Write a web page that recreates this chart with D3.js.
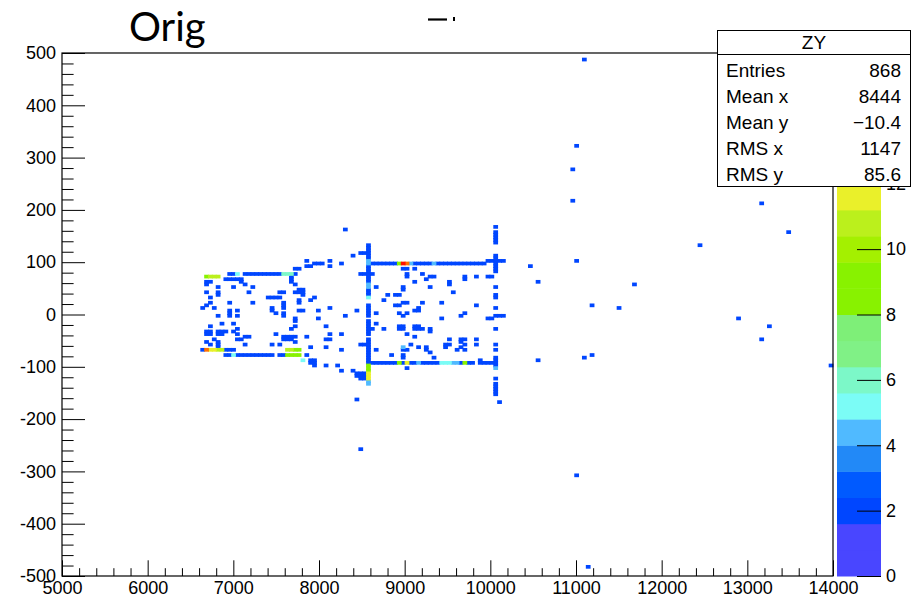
<!DOCTYPE html>
<html><head><meta charset="utf-8">
<script src="https://cdn.jsdelivr.net/npm/d3@7"></script>
<style>
body{margin:0;background:#fff;}
svg{display:block;}
text{font-family:"Liberation Sans",Arial,sans-serif;}
</style></head>
<body>
<svg id="c" width="914" height="606"></svg>
<script>
// ---------- data ----------
const xRange = [5000, 14000];
const yRange = [-500, 500];
const zRange = [0, 16];
const binWX = 45;   // 200 bins in x
const binWY = 5;    // 200 bins in y
const xTicks = [5000,6000,7000,8000,9000,10000,11000,12000,13000,14000];
const yTicks = [-500,-400,-300,-200,-100,0,100,200,300,400,500];
const zTicks = [0,2,4,6,8,10,12];
const paletteColors = ["#4946ff","#4946ff","#0046ff","#005aff","#2289f7","#50baff","#7bfcf6","#7cf8c8",
  "#80f186","#7eef78","#88f200","#88f200","#a4f000","#bbf01c","#eaf02a","#ffd000","#ffa000","#ff7000","#ff4000","#ff1000"];
const statsLabels = ["Entries","Mean x","Mean y","RMS x","RMS y"];
const statsValues = ["868","8444","\u221210.4","1147","85.6"];

// horizontal runs of filled bins: [X0, X1, Y, content]
const hRuns = [
 [6961,7038,79,2],[7058,7058,79,5.2],[7116,7214,79,2],[7291,7396,79,2],[7466,7544,79,2],[7575,7700,79,6],[7740,7740,79,2],
 [6688,6688,71,8.8],[6730,6844,71,10.8],[6914,7078,66,2],
 [6640,6640,-70,2],[6690,6690,-70,13.6],[6730,6760,-70,11.6],[6800,6850,-70,10.8],[6920,7000,-70,2],
 [6920,6960,-76,2],[7000,7000,-76,5.2],[7040,7440,-76,2],[7530,7600,-76,2],
 [7640,7680,-70,10.8],[7710,7760,-70,8.8],[7640,7760,-76,8.8],
 [8615,8900,98,2],[8920,8920,98,8.8],[8965,8965,98,16],[9010,9010,98,13.6],[9060,9100,98,4.4],[9130,9198,98,2],
 [9257,9320,98,2],[9350,9350,98,4.4],[9380,9918,98,2],
 [8615,8900,-95,2],[8920,8920,-95,8.8],[8965,8965,-95,2],[9030,9030,-95,11.6],[9060,9130,-95,2],[9170,9170,-95,4.4],
 [9200,9420,-95,2],[9440,9540,-95,5.2],[9570,9640,-95,4.4],[9660,9680,-95,2],[9710,9710,-95,8.8],[9740,9800,-95,2],[9860,10073,-95,2],
 [8480,8530,117,2],[8480,8620,79,2],[8590,8620,-30,2],[8480,8530,-56,2],
 [9976,10151,104,2],[10100,10151,-3,2],[9990,10010,-9,2],[9990,10010,70,2]
];
// vertical runs of filled bins: [X, Y0, Y1, content]
const vRuns = [
 [8568,101,133,2],[8568,91,100,4.4],[8568,60,90,2],[8568,53,59,4.4],[8568,34,47,2],[8568,31,31,5.2],[8568,-4,18,2],
 [8568,-39,-14,2],[8568,-81,-46,2],[8568,-93,-82,2],[8568,-97,-97,8.8],[8568,-112,-102,8.8],[8568,-125,-115,11.6],[8568,-131,-128,4.4],
 [10062,165,165,2],[10062,136,155,2],[10062,82,111,2],[10062,51,51,2],[10062,30,39,2],[10062,12,12,2],[10062,-3,-3,2],
 [10062,-29,-29,2],[10062,-56,-56,2],[10062,-69,-69,2],[10062,-96,-84,2],[10062,-103,-103,4.4],[10062,-123,-123,2],[10062,-154,-135,2],[10113,-169,-169,2]
];
// single filled bins, left cluster: [X, Y, content]
const leftCells = [
 [8323,163,2],[8381,111,2],[7836,104,2],[7953,98,2],[7998,98,2],[8050,98,2],[8147,104,2],[8264,98,2],[8147,92,2],[7836,91,2],[7875,91,2],[7914,91,2],[7720,86,2],[7765,86,2],
 [6700,64,2],[6750,64,2],[6700,58,2],[7100,60,2],[7130,58,2],[6990,51,2],[6800,50,2],[6800,44,2],[6800,38,2],[6750,30,2],[6750,24,2],[6690,44,2],
 [7170,40,2],[7240,50,2],[7240,24,2],[6940,24,2],[6650,12,2],[6700,18,2],[6760,12,2],[6950,5,2],[7060,5,2],[7060,-1,2],[6820,-3,2],
 [7470,14,2],[7470,8,2],[7500,2,2],[7400,31,2],[7450,31,2],[7500,31,2],[7540,40,2],[7590,40,2],[7540,34,2],[7603,24,2],[7603,18,2],[7603,12,2],
 [7680,72,2],[7680,66,2],[7680,60,2],[7720,40,2],[7760,40,2],[7739,57,2],[7780,46,2],[7830,46,2],[7780,40,2],[7830,40,2],[7800,35,2],
 [7953,31,2],[7894,25,2],[7770,28,2],[7770,20,2],[8011,5,2],[8147,12,2],[8439,5,2],[7972,-7,2],[8089,-23,2],[8147,-36,2],[8264,-36,2],
 [7836,-42,2],[7720,-7,2],[7720,-14,2],[7720,-21,2],[7760,5,2],[7800,5,2],[8070,-48,2],[8120,-48,2],[7914,-63,2],[8089,-63,2],[7836,-76,2],
 [7790,-88,5.2],[7830,-88,5.2],[7900,-87,2],[7950,-87,2],[7900,-93,2],[7950,-93,2],[7925,-99,2],[8089,-100,2],[8206,-100,2],[8283,-106,2],[8400,-109,2],
 [8440,-115,2],[8490,-115,2],[8530,-115,2],[8440,-120,2],[8490,-120,2],[8530,-120,2],[8490,-125,2],[8530,-125,2],
 [8432,-163,2],[8490,-257,2],
 [6700,-34,2],[6750,-34,2],[6800,-34,2],[6850,-34,2],[6700,-40,2],[6750,-40,2],[6800,-40,2],[6850,-40,2],[6760,-49,2],[6688,-55,2],
 [6820,-55,2],[6820,-60,2],[6840,-65,2],[6930,-34,2],[6980,-34,2],[7020,-34,2],[7060,-30,2],[7060,-40,2],[7100,-46,2],[7060,-49,2],
 [7130,-42,2],[7170,-42,2],[7200,-42,2],[7116,-60,2],[6750,-22,2],[6880,-17,2],[7000,-17,2],
 [7480,-36,2],[7580,-44,2],[7620,-44,2],[7660,-44,2],[7700,-44,2],[7580,-50,2],[7620,-50,2],[7660,-50,2],[7720,-55,2],[7661,-30,2],
 [7466,-60,2],[7520,-60,2],[6940,4,2],[6960,-1,2],[7590,4,2],[7600,-1,2],[6747,-58,2],[6825,-63,2]
];
// single filled bins, right box
const rightCells = [
 [8990,89,2],[9030,89,2],[9100,86,2],[9039,79,2],[9039,74,2],[9190,79,2],[9295,71,2],[9340,71,2],[9097,60,2],[9237,65,2],[9505,62,2],[9505,56,2],
 [9704,66,2],[9704,72,2],[9821,72,2],[9996,72,2],[8673,50,2],[9276,50,2],[9587,42,2],[8965,52,2],[8965,47,2],[8990,47,2],[8945,37,2],[8900,37,2],
 [8805,37,2],[8751,26,2],[9004,24,2],[9040,24,2],[9217,24,2],[9413,24,2],[8887,18,2],[8930,18,2],[9155,14,2],[9120,9,2],[9160,9,2],[9821,18,2],
 [8673,2,2],[8926,3,2],[9043,2,2],[9413,-9,2],[9704,3,2],[9646,-3,2],[8980,-3,2],[8673,-17,2],[8751,-30,2],[8945,-24,2],[8990,-24,2],[8945,-29,2],
 [8990,-29,2],[9043,-36,2],[9100,-42,2],[9120,-22,2],[9160,-22,2],[9120,-27,2],[9160,-27,2],[9217,-26,2],[9315,-26,2],[9315,-32,2],[9529,-49,2],
 [9470,-60,2],[9510,-60,2],[9490,-65,2],[9640,-49,2],[9680,-49,2],[9640,-55,2],[9690,-60,2],[9670,-65,2],[9821,-50,2],[9821,-56,2],[9607,-69,2],
 [9685,-68,2],[8673,-70,2],[8868,-76,2],[8990,-63,4.4],[8990,-70,2],[8990,-77,2],[8990,-83,2],[9030,-70,2],[9062,-58,2],[9179,-63,2],[9237,-63,2],
 [9237,-69,2],[9276,-74,2],[9354,-83,2],[9879,-90,2],[9043,-103,2],[8381,-109,2],[8323,-1,2],[8280,-70,2]
];
// isolated filled bins outside the boxes
const outerCells = [
 [10482,90,2],[10548,64,2],[11027,104,2],[11685,57,2],[11202,18,2],[11502,11,2],[12887,-10,2],[13241,-23,2],[13183,-49,2],
 [11202,-76,2],[11085,-83,2],[10548,-89,2],[13965,-96,2],[13179,211,2],[13478,158,2],[12467,132,2],[10968,217,2],[10965,278,2],
 [11012,324,2],[11082,487,2],[11023,-309,2],[11140,-483,2]
];

// ---------- drawing ----------
const svg = d3.select("#c");
const frame = {l:62, r:833, t:53, b:576};
const xs = d3.scaleLinear().domain(xRange).range([frame.l, frame.r]);
const ys = d3.scaleLinear().domain(yRange).range([frame.b, frame.t]);
const zs = d3.scaleLinear().domain(zRange).range([frame.b, frame.t]);
const nLev = paletteColors.length;
const dz = (zRange[1]-zRange[0])/nLev;
const colorOf = v => paletteColors[Math.max(0, Math.min(nLev-1, Math.floor((v - zRange[0])/dz + 1e-6)))];

// build bin map
const bins = new Map();
const ix = X => Math.floor((X - xRange[0]) / binWX);
const iy = Y => Math.floor((Y - yRange[0]) / binWY);
function put(i, j, v){ bins.set(i+","+j, {i, j, v}); }
hRuns.forEach(([x0,x1,y,v]) => { for (let i = ix(x0); i <= ix(x1); i++) put(i, iy(y), v); });
vRuns.forEach(([x,y0,y1,v]) => { for (let j = iy(y0); j <= iy(y1); j++) put(ix(x), j, v); });
[...leftCells, ...rightCells, ...outerCells].forEach(([x,y,v]) => put(ix(x), iy(y), v));

// the reference image is slightly soft: draw each bin with a small halo
const padX = 0.45, padY = 0.55;
const binData = [...bins.values()].sort((a,b) => a.v - b.v);
svg.append("g").selectAll("rect").data(binData).join("rect")
  .attr("x", d => xs(xRange[0] + d.i*binWX) - padX)
  .attr("width", d => xs(xRange[0] + (d.i+1)*binWX) - xs(xRange[0] + d.i*binWX) + 2*padX)
  .attr("y", d => ys(yRange[0] + (d.j+1)*binWY) - padY)
  .attr("height", d => ys(yRange[0] + d.j*binWY) - ys(yRange[0] + (d.j+1)*binWY) + 2*padY)
  .attr("fill", d => colorOf(d.v));

// axes
const minorX = d3.range(xRange[0], xRange[1]+1, 200).filter(v => v % 1000 !== 0);
const minorY = d3.range(yRange[0], yRange[1]+1, 20).filter(v => v % 100 !== 0);
function styleAxis(g){ g.select(".domain").remove(); g.selectAll("line").attr("stroke","#000"); g.selectAll("text").attr("fill","#000").style("font-size","18px").style("font-family","'Liberation Sans',Arial,sans-serif"); }
svg.append("g").attr("transform", `translate(0,${frame.b})`)
  .call(d3.axisBottom(xs).tickValues(xTicks).tickSize(-15.7).tickPadding(5).tickFormat(d => String(d))).call(styleAxis);
svg.append("g").attr("transform", `translate(0,${frame.b})`)
  .call(d3.axisBottom(xs).tickValues(minorX).tickSize(-7.8).tickFormat("")).call(styleAxis);
svg.append("g").attr("transform", `translate(${frame.l},0)`)
  .call(d3.axisLeft(ys).tickValues(yTicks).tickSize(-23).tickPadding(6).tickFormat(d => String(d))).call(styleAxis);
svg.append("g").attr("transform", `translate(${frame.l},0)`)
  .call(d3.axisLeft(ys).tickValues(minorY).tickSize(-11.6).tickFormat("")).call(styleAxis);

// frame
svg.append("rect").attr("x", frame.l).attr("y", frame.t).attr("width", frame.r-frame.l).attr("height", frame.b-frame.t)
  .attr("fill","none").attr("stroke","#000").attr("stroke-width",1.2);

// palette
const pal = {l:837, r:881};
svg.append("g").selectAll("rect").data(d3.range(nLev)).join("rect")
  .attr("x", pal.l).attr("width", pal.r-pal.l)
  .attr("y", k => zs(zRange[0]+(k+1)*dz)).attr("height", k => zs(zRange[0]+k*dz) - zs(zRange[0]+(k+1)*dz) + 0.5)
  .attr("fill", k => paletteColors[k]);
svg.append("g").attr("transform", `translate(${pal.r},0)`)
  .call(d3.axisRight(zs).tickValues(zTicks).tickSize(-24).tickPadding(5).tickFormat(d => String(d))).call(styleAxis);

// stats box
const sb = {x:717.5, y:30.5, w:193, h:156};
svg.append("rect").attr("x", sb.x).attr("y", sb.y).attr("width", sb.w).attr("height", sb.h)
  .attr("fill","#fff").attr("stroke","#000").attr("stroke-width",1);
svg.append("line").attr("x1", sb.x).attr("x2", sb.x+sb.w).attr("y1", 54.5).attr("y2", 54.5).attr("stroke","#000");
svg.append("text").attr("x", sb.x+sb.w/2).attr("y", 49).attr("text-anchor","middle").style("font-size","19px").text("ZY");
statsLabels.forEach((t, k) => {
  svg.append("text").attr("x", 726).attr("y", 77 + k*26).style("font-size","19px").text(t);
  svg.append("text").attr("x", 901).attr("y", 77 + k*26).attr("text-anchor","end").style("font-size","19px").text(statsValues[k]);
});

// slide title
svg.append("text").attr("x", 129).attr("y", 41).style("font-family","Lato,'Open Sans',sans-serif").style("font-size","40px").attr("fill","#000").text("Orig");
svg.append("line").attr("x1", 428).attr("x2", 447).attr("y1", 19.5).attr("y2", 19.5).attr("stroke","#000").attr("stroke-width",2.2);
svg.append("rect").attr("x", 453).attr("y", 17).attr("width", 2).attr("height", 4).attr("fill","#000");
</script>
</body></html>
